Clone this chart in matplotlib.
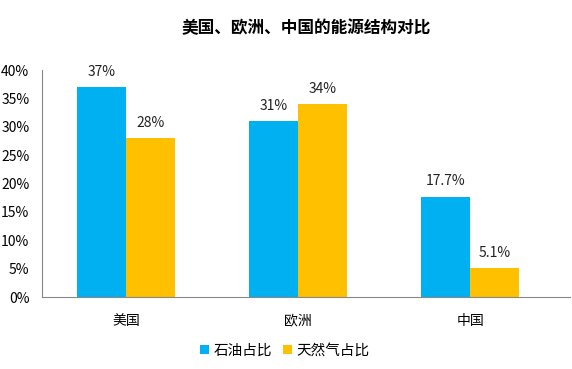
import matplotlib
matplotlib.use('Agg')
import matplotlib.pyplot as plt
import numpy as np

plt.rcParams['font.family'] = ['Noto Sans CJK SC', 'DejaVu Sans']

# --- data ---
regions = ['美国', '欧洲', '中国']
oil_share = [37, 31, 17.7]
gas_share = [28, 34, 5.1]
oil_labels = ['37%', '31%', '17.7%']
gas_labels = ['28%', '34%', '5.1%']

fig = plt.figure(figsize=(5.72, 3.69), dpi=100)
ax = fig.add_axes([0.073, 0.195, 0.924, 0.615])

x = np.arange(len(regions))
w = 0.285
b1 = ax.bar(x - w / 2, oil_share, w, color='#00B0F0', label='石油占比')
b2 = ax.bar(x + w / 2, gas_share, w, color='#FFC000', label='天然气占比')

for bars, labs in ((b1, oil_labels), (b2, gas_labels)):
    for rect, lab in zip(bars, labs):
        ax.text(rect.get_x() + rect.get_width() / 2, rect.get_height() + 1.5, lab,
                ha='center', va='bottom', fontsize=10, color='#222222')

ax.set_ylim(0, 40)
ax.set_xlim(-0.49, 2.58)
ax.set_yticks(np.arange(0, 41, 5))
ax.set_yticklabels([f'{v}%' for v in range(0, 41, 5)])
ax.set_xticks(x)
ax.set_xticklabels(regions)
ax.tick_params(axis='y', length=0, labelsize=10, pad=9)
ax.tick_params(axis='x', length=0, labelsize=10, pad=12)
for s in ['top', 'right']:
    ax.spines[s].set_visible(False)
for s in ['left', 'bottom']:
    ax.spines[s].set_color('#888888')

fig.text(0.535, 0.925, '美国、欧洲、中国的能源结构对比', ha='center', va='center',
         fontsize=12, fontweight='bold')

ax.legend(loc='center', bbox_to_anchor=(0.46, -0.235), ncol=2, frameon=False,
          fontsize=10.5, handlelength=0.6, handleheight=0.6, handletextpad=0.3,
          columnspacing=0.8)

fig.savefig('out.png', dpi=100)
